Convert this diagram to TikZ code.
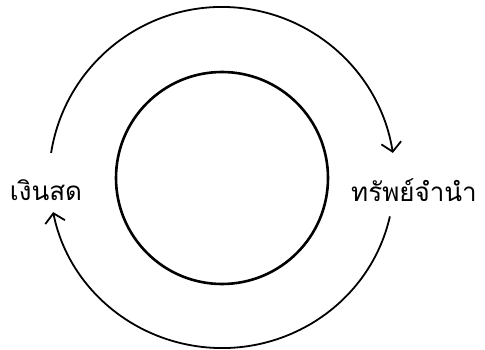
\documentclass[tikz,border=0pt]{standalone}
\usepackage{fontspec}
\newfontfamily\thaifont[Script=Thai]{Loma}
\usetikzlibrary{arrows.meta, positioning, calc}

\begin{document}
\begin{tikzpicture}[
    x=1pt, y=-1pt,
    thick,
    core node/.style={circle, draw, line width=2.6pt, minimum size=212pt, inner sep=0pt},
    label node/.style={font=\thaifont\fontsize{26}{30}\selectfont, inner sep=1pt},
    flow/.style={line width=1.8pt, -{Straight Barb[length=9pt, width=20pt, line width=1.8pt]}}
]
    \useasboundingbox (0,0) rectangle (485,350);

    % Nodes
    \node[core node] (core) at (222,178) {};
    \node[label node] (cash) at (46,190) {เงินสด};
    \node[label node] (pawn) at (414,190) {ทรัพย์จำนำ};

    % Ends of the loop
    \coordinate (cashtop) at ($(222,180)+(-170.9,-27.1)$);
    \coordinate (pawnbot) at ($(222,180)+(167.9,36.4)$);

    % Edges
    \draw[flow] (cashtop) arc[start angle=-171, end angle=-9, radius=173];
    \draw[flow] (pawnbot) arc[start angle=12.5, end angle=169, x radius=172, y radius=168];
\end{tikzpicture}
\end{document}
